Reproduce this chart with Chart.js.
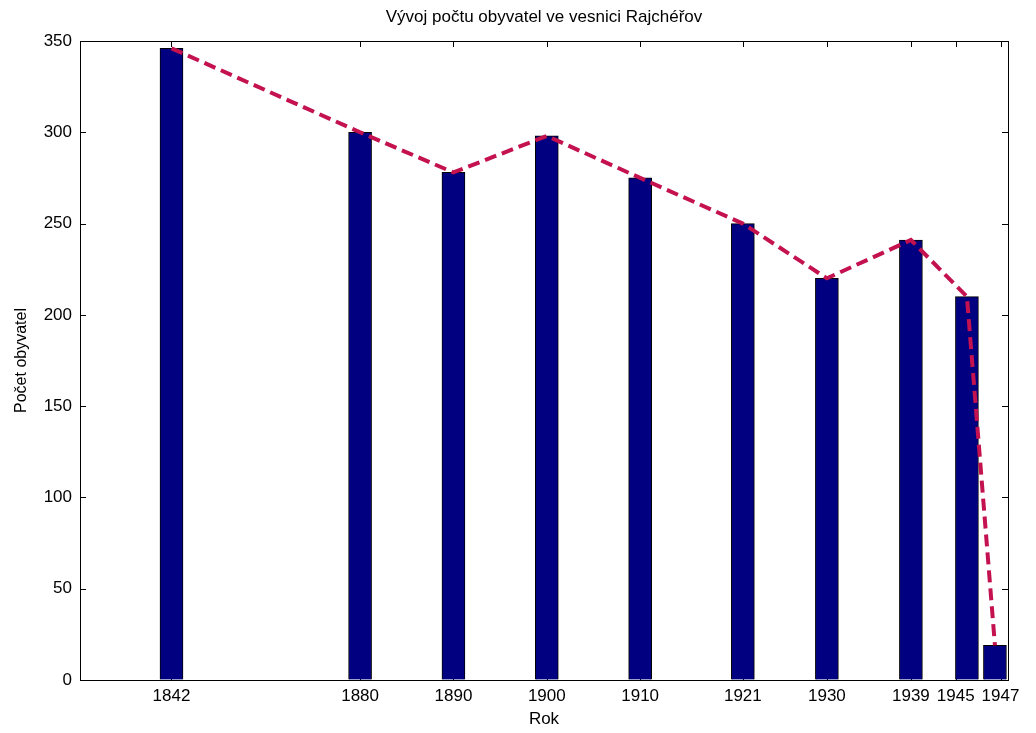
<!DOCTYPE html>
<html>
<head>
<meta charset="utf-8">
<script src="https://cdn.jsdelivr.net/npm/chart.js@4.4.1/dist/chart.umd.min.js"></script>
<style>
    html, body { margin: 0; background: #fff; }
</style>
</head>
<body>
<canvas id="myChart" width="1036" height="733"></canvas>
<script>
// census years as labelled on the x axis
const years = ["1842", "1880", "1890", "1900", "1910", "1921", "1930", "1939", "1945", "1947"];
// where the bars sit on the x axis (the original plot squeezes 1842 and the last one)
const barPositions = [1859.8, 1880, 1890, 1900, 1910, 1921, 1930, 1939, 1945, 1948];
// where the tick labels sit (the last two are pulled apart in the original)
const labelPositions = [1859.8, 1880, 1890, 1900, 1910, 1921, 1930, 1939, 1943.8, 1948.6];
const population = [346, 300, 278, 298, 275, 250, 220, 241, 210, 19];
const yTicks = [0, 50, 100, 150, 200, 250, 300, 350];

const titleText = "Vývoj počtu obyvatel ve vesnici Rajchéřov";
const fontFamily = "'Liberation Sans', Arial, sans-serif";

const points = barPositions.map((x, i) => ({ x, y: population[i] }));

// box round the axes with inward ticks, like a matlab figure
const matlabFrame = {
    id: "matlabFrame",
    beforeDatasetsDraw(chart) {
        const { ctx, chartArea: a, scales } = chart;
        const tick = 6;
        ctx.save();
        ctx.strokeStyle = "#000";
        ctx.lineWidth = 1;
        ctx.beginPath();
        scales.x.ticks.forEach(t => {
            const px = Math.round(scales.x.getPixelForValue(t.value)) + 0.5;
            ctx.moveTo(px, a.bottom);
            ctx.lineTo(px, a.bottom - tick);
            ctx.moveTo(px, a.top);
            ctx.lineTo(px, a.top + tick);
        });
        scales.y.ticks.forEach(t => {
            const py = Math.round(scales.y.getPixelForValue(t.value)) + 0.5;
            ctx.moveTo(a.left, py);
            ctx.lineTo(a.left + tick, py);
            ctx.moveTo(a.right, py);
            ctx.lineTo(a.right - tick, py);
        });
        ctx.stroke();
        ctx.strokeRect(Math.round(a.left) + 0.5, Math.round(a.top) + 0.5,
            Math.round(a.width), Math.round(a.height));
        ctx.restore();
    },
    afterDraw(chart) {
        const { ctx, chartArea: a } = chart;
        ctx.save();
        ctx.fillStyle = "#000";
        ctx.font = "17px " + fontFamily;
        ctx.textAlign = "center";
        ctx.textBaseline = "middle";
        ctx.fillText(titleText, (a.left + a.right) / 2, a.top - 24);
        ctx.restore();
    }
};

new Chart(document.querySelector("#myChart"), {
    type: "bar",
    data: {
        datasets: [
            {
                type: "line",
                label: "Počet obyvatel",
                data: points,
                borderColor: "#c3124f",
                borderWidth: 4,
                borderDash: [12, 6],
                pointRadius: 0,
                tension: 0,
                fill: false,
                order: 0
            },
            {
                type: "bar",
                label: "Počet obyvatel",
                data: points,
                backgroundColor: "#000080",
                borderColor: "#000000",
                borderWidth: 1,
                barThickness: 23,
                order: 1
            }
        ]
    },
    plugins: [matlabFrame],
    options: {
        responsive: false,
        animation: false,
        devicePixelRatio: 1,
        layout: { padding: { top: 41, right: 28, left: 0, bottom: 0 } },
        plugins: {
            legend: { display: false },
            tooltip: { enabled: false }
        },
        scales: {
            x: {
                type: "linear",
                min: 1850,
                max: 1949.4,
                offset: false,
                afterBuildTicks: scale => {
                    scale.ticks = labelPositions.map(value => ({ value }));
                },
                afterFit: scale => { scale.height = 53; },
                grid: { drawOnChartArea: false, drawTicks: false },
                border: { display: false },
                ticks: {
                    autoSkip: false,
                    maxRotation: 0,
                    padding: 6,
                    color: "#000",
                    font: { size: 17, family: fontFamily },
                    callback: (value, index) => years[index]
                },
                title: {
                    display: true,
                    text: "Rok",
                    color: "#000",
                    font: { size: 17, family: fontFamily },
                    padding: { top: 0, bottom: 3 }
                }
            },
            y: {
                min: 0,
                max: 350,
                afterBuildTicks: scale => {
                    scale.ticks = yTicks.map(value => ({ value }));
                },
                afterFit: scale => { scale.width = 80; },
                grid: { drawOnChartArea: false, drawTicks: false },
                border: { display: false },
                ticks: {
                    padding: 8,
                    color: "#000",
                    font: { size: 17, family: fontFamily }
                },
                title: {
                    display: true,
                    text: "Počet obyvatel",
                    color: "#000",
                    font: { size: 16, family: fontFamily },
                    padding: { top: 12, bottom: 0 }
                }
            }
        }
    }
});
</script>
</body>
</html>
